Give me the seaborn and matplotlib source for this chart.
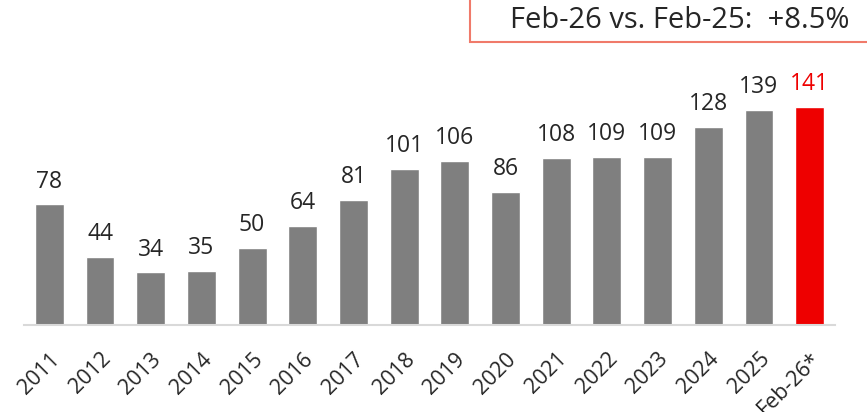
import matplotlib
matplotlib.use("Agg")
import matplotlib.pyplot as plt
import seaborn as sns
import pandas as pd
from matplotlib.patches import Rectangle

categories = ["2011", "2012", "2013", "2014", "2015", "2016", "2017", "2018", "2019",
              "2020", "2021", "2022", "2023", "2024", "2025", "Feb-26*"]
values = [78, 44, 34, 35, 50, 64, 81, 101, 106, 86, 108, 109, 109, 128, 139, 141]
title_text = "Feb-26 vs. Feb-25:  +8.5%"

sns.set_style("white")
plt.rcParams['font.family'] = ['Open Sans', 'DejaVu Sans']

df = pd.DataFrame({"cat": categories, "val": values})
colors = ["#7f7f7f"] * (len(values) - 1) + ["#ee0000"]

fig = plt.figure(figsize=(8.67, 4.12), dpi=100)
ax = fig.add_axes([24/867, 87/412, 811/867, 0.6])
sns.barplot(data=df, x="cat", y="val", hue="cat", palette=colors, legend=False,
            width=0.57, saturation=1, ax=ax)
ax.set_xlim(-0.5, 15.5)
ax.set_ylim(0, 160)
ax.set_xlabel("")
ax.set_ylabel("")
ax.set_yticks([])
for s in ["top", "right", "left"]:
    ax.spines[s].set_visible(False)
ax.spines["bottom"].set_color("#d9d9d9")
ax.spines["bottom"].set_linewidth(1.5)
ax.tick_params(axis="x", length=0, pad=17)
ax.set_xticks(range(len(categories)))
ax.set_xticklabels(categories, rotation=45, ha="right", rotation_mode="anchor",
                   fontsize=15.5, color="#262626")
for lbl in ax.get_xticklabels():
    lbl.set_x(lbl.get_position()[0])

for i, v in enumerate(values):
    ax.text(i, v + 7, str(v), ha="center", va="bottom", fontsize=16.5,
            color="#ee0000" if i == len(values) - 1 else "#262626")

fig.patches.append(Rectangle((470/867, (412-42)/412), 0.5, 0.2, transform=fig.transFigure,
                             facecolor="white", edgecolor="#f07a6a", linewidth=1.5))
fig.text(680/867, (412-21)/412, title_text, ha="center", va="center", fontsize=21, color="#262626")

fig.savefig("out.png", dpi=100)
